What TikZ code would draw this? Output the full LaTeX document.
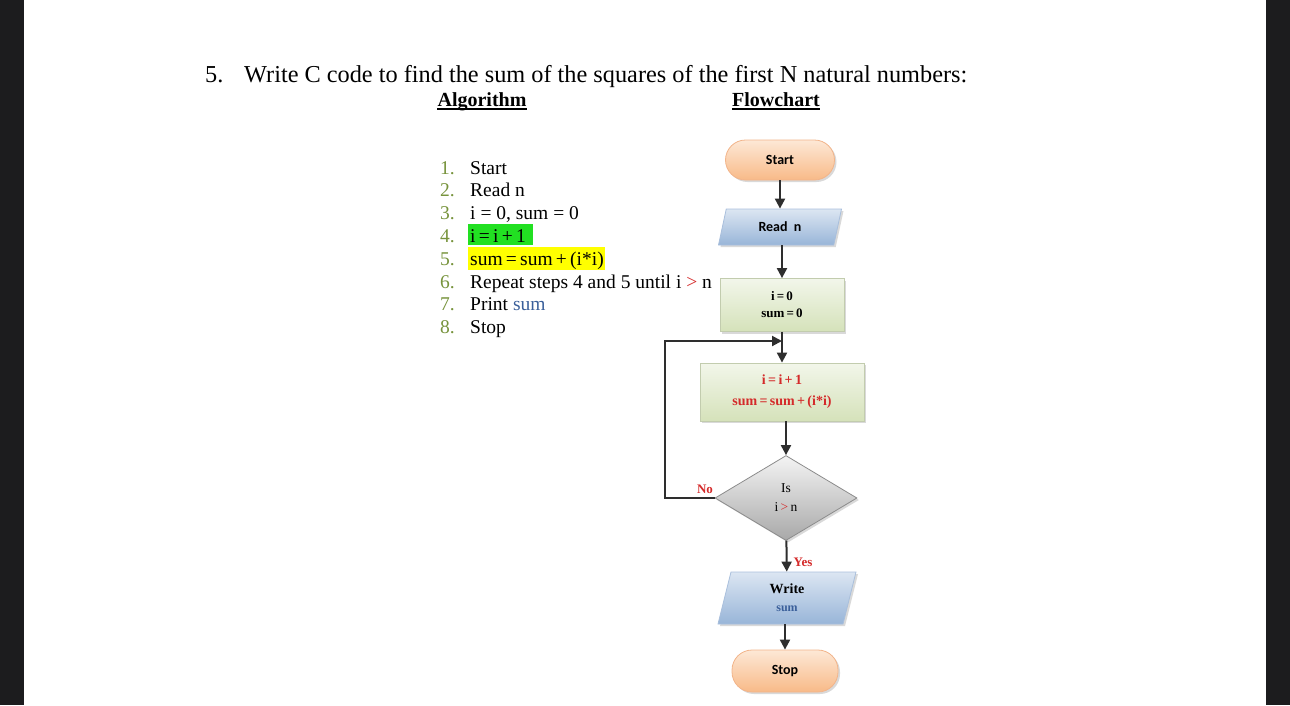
\documentclass[tikz,border=0pt]{standalone}
\usepackage{fontspec}
\setmainfont{Liberation Serif}
\newfontfamily\calfont{Carlito}
\usetikzlibrary{shapes.geometric,shadows,arrows.meta}
\definecolor{darkbar}{HTML}{1C1C1E}
\definecolor{numgreen}{HTML}{77933C}
\definecolor{sumblue}{HTML}{3A5F9A}
\definecolor{redtxt}{HTML}{D42A2A}
\definecolor{hlgreen}{HTML}{22E022}
\definecolor{hlyellow}{HTML}{FFFF00}
\definecolor{orTop}{HTML}{FDE8D6}
\definecolor{orBot}{HTML}{F8BA88}
\definecolor{orLine}{HTML}{F2B48A}
\definecolor{blTop}{HTML}{DCE6F2}
\definecolor{blBot}{HTML}{98B5D8}
\definecolor{blLine}{HTML}{A9BFDC}
\definecolor{grTop}{HTML}{F2F6EA}
\definecolor{grBot}{HTML}{D5E2BA}
\definecolor{grLine}{HTML}{C2CCAE}
\definecolor{gyTop}{HTML}{F4F4F4}
\definecolor{gyBot}{HTML}{A8A8A8}
\definecolor{gyLine}{HTML}{8C8C8C}
\definecolor{arrcol}{HTML}{2E2E2E}
\begin{document}
\begin{tikzpicture}[x=1pt,y=-1pt,
  shadowed/.style={drop shadow={shadow xshift=2pt,shadow yshift=-2pt,opacity=0.25,fill=black!60}},
  term/.style={draw=orLine,line width=0.8pt,rounded corners=20pt,top color=orTop,bottom color=orBot,
    shadowed,font=\calfont\bfseries\fontsize{14}{16}\selectfont},
  iobox/.style={trapezium,trapezium stretches body,draw=blLine,line width=0.8pt,top color=blTop,bottom color=blBot,
    shadowed,inner sep=0pt,align=center},
  procbox/.style={rectangle,draw=grLine,line width=0.8pt,top color=grTop,bottom color=grBot,shadowed,
    align=center,font=\bfseries\fontsize{13}{17}\selectfont},
  decbox/.style={diamond,draw=gyLine,line width=0.8pt,top color=gyTop,bottom color=gyBot,shadowed,
    inner sep=0pt,align=center,font=\fontsize{13.5}{19}\selectfont},
  arr/.style={draw=arrcol,line width=2pt,-{Triangle[length=10pt,width=10pt]}},
  lbl/.style={text=redtxt,font=\bfseries\fontsize{13}{15}\selectfont,inner sep=0pt},
  numtxt/.style={anchor=base west,inner sep=0pt,text=numgreen,font=\fontsize{19.5}{23}\selectfont},
  itemtxt/.style={anchor=base west,inner sep=0pt,font=\fontsize{19.5}{23}\selectfont},
]
\useasboundingbox (0,0) rectangle (1290,705);
\fill[darkbar] (0,0) rectangle (24,705);
\fill[darkbar] (1266,0) rectangle (1290,705);

% title
\node[anchor=base west,inner sep=0pt,font=\fontsize{24.3}{28}\selectfont] (qnum) at (205,82) {5.};
\node[anchor=base west,inner sep=0pt,font=\fontsize{24.3}{28}\selectfont] (title) at (244,82)
  {Write C code to find the sum of the squares of the first N natural numbers:};
\node[anchor=base,inner sep=0pt,font=\bfseries\fontsize{20}{24}\selectfont] (alg) at (482,106) {Algorithm};
\node[anchor=base,inner sep=0pt,font=\bfseries\fontsize{20}{24}\selectfont] (fc) at (776,106) {Flowchart};
\draw[line width=1.5pt] ([yshift=-3pt]alg.base west) -- ([yshift=-3pt]alg.base east);
\draw[line width=1.5pt] ([yshift=-3pt]fc.base west) -- ([yshift=-3pt]fc.base east);

% highlights
\fill[hlgreen] (468,224) rectangle (533,245);
\fill[hlyellow] (468,247) rectangle (605,270);

% algorithm list
\foreach \k/\t [count=\c] in {1/{Start},2/{Read n},3/{i = 0, sum = 0},4/{i\,=\,i\,+\,1},5/{sum\,=\,sum\,+\,(i*i)},
  6/{Repeat steps 4 and 5 until i \textcolor{redtxt}{>} n},7/{Print \textcolor{sumblue}{sum}},8/{Stop}}{
  \node[numtxt] (n\k) at (440,{174+22.8*(\k-1)}) {\k.};
  \node[itemtxt] (t\k) at (470,{174+22.8*(\k-1)}) {\t};
}

% flowchart
\node[term,minimum width=109pt,minimum height=40pt] (start) at (780,160) {Start};
\node[iobox,trapezium left angle=52,trapezium right angle=128,minimum width=123pt,minimum height=36pt,
  font=\calfont\bfseries\fontsize{14}{16}\selectfont] (read) at (780,227) {Read\ \ n};
\node[procbox,minimum width=124pt,minimum height=53pt] (init) at (782,305) {i\,=\,0\\sum\,=\,0};
\node[procbox,minimum width=164pt,minimum height=58pt,text=redtxt,font=\bfseries\fontsize{14}{21}\selectfont]
  (body) at (782,392) {i\,=\,i\,+\,1\\sum\,=\,sum\,+\,(i*i)};
\node[decbox,minimum width=142pt,minimum height=85pt] (dia) at (786,498) {Is\\i\,\textcolor{redtxt}{>}\,n};
\node[iobox,trapezium left angle=65,trapezium right angle=115,minimum width=138pt,minimum height=52pt,
  font=\bfseries\fontsize{14}{18}\selectfont] (write) at (787,598) {Write\\\textcolor{sumblue}{\fontsize{12}{14}\selectfont sum}};
\node[term,minimum width=106pt,minimum height=42pt] (stop) at (785,671) {Stop};

\coordinate (join) at (782,341);
\draw[arr] (start) -- (start |- read.north);
\draw[arr] (read.south -| init.north) -- (init.north);
\draw[arr] (init) -- (body);
\draw[arr] (body.south -| dia.north) -- (dia.north);
\draw[arr] (dia) -- (write);
\draw[arr] (write.south -| stop.north) -- (stop.north);
\draw[arr] (dia.west) -- (665,498) |- (join);

\node[lbl] (no) at (705,489) {No};
\node[lbl] (yes) at (803,562) {Yes};
\end{tikzpicture}
\end{document}
